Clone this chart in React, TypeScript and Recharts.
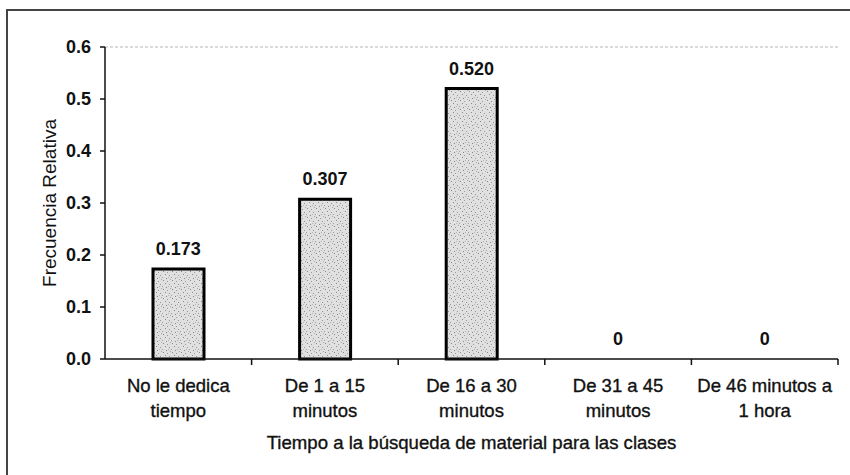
import React from "react";
import {
  ComposedChart,
  Bar,
  Line,
  XAxis,
  YAxis,
  LabelList,
  ReferenceLine,
  Label,
} from "recharts";

const categoryLines: string[][] = [
  ["No le dedica", "tiempo"],
  ["De 1 a 15", "minutos"],
  ["De 16 a 30", "minutos"],
  ["De 31 a 45", "minutos"],
  ["De 46 minutos a", "1 hora"],
];
const categories: string[] = categoryLines.map((l) => l.join(" "));
const frequencies: number[] = [0.173, 0.307, 0.52, 0, 0];
const yTicks: number[] = [0, 0.1, 0.2, 0.3, 0.4, 0.5, 0.6];
const yTitle = "Frecuencia Relativa";
const xTitle = "Tiempo a la búsqueda de material para las clases";

const data = categories.map((c, i) => ({ cat: c, value: frequencies[i] }));

const FONT = "'Liberation Sans', Arial, sans-serif";

const CatTick = (props: any) => {
  const { x, y, index, width } = props;
  const lines = categoryLines[index] || [];
  const band = width / categories.length;
  const left = x - band / 2;
  const right = x + band / 2;
  return (
    <g>
      {index > 0 && (
        <line x1={left} x2={left} y1={y} y2={y + 6} stroke="#111" strokeWidth={1.5} />
      )}
      {index === categories.length - 1 && (
        <line x1={right} x2={right} y1={y} y2={y + 6} stroke="#111" strokeWidth={1.5} />
      )}
      {lines.map((ln, i) => (
        <text
          key={i}
          x={x}
          y={y + 33 + i * 25}
          textAnchor="middle"
          fontFamily={FONT}
          fontSize={18.5}
          fill="#111"
          stroke="#111"
          strokeWidth={0.35}
        >
          {ln}
        </text>
      ))}
    </g>
  );
};

export default function App() {
  return (
    <div
      style={{
        position: "absolute",
        left: 0,
        top: 0,
        width: 850,
        height: 475,
        overflow: "hidden",
        background: "#fff",
      }}
    >
      <div
        style={{
          position: "absolute",
          left: 6,
          top: 9,
          width: 900,
          height: 600,
          borderTop: "2px solid #444",
          borderLeft: "2px solid #444",
        }}
      />
      <div style={{ position: "absolute", left: 0, top: 0 }}>
        <ComposedChart
          width={850}
          height={475}
          data={data}
          margin={{ top: 47, right: 12, bottom: 26, left: 45 }}
          barSize={51}
        >
          <defs>
            <pattern
              id="stipple"
              width="9"
              height="9"
              patternUnits="userSpaceOnUse"
            >
              <rect width="9" height="9" fill="#e0e0e0" />
              <rect x="1" y="1" width="1" height="1" fill="#888" />
              <rect x="5" y="2" width="1" height="1" fill="#9a9a9a" />
              <rect x="3" y="4" width="1" height="1" fill="#8c8c8c" />
              <rect x="7" y="5" width="1" height="1" fill="#969696" />
              <rect x="0" y="7" width="1" height="1" fill="#a0a0a0" />
              <rect x="4" y="8" width="1" height="1" fill="#888" />
              <rect x="8" y="0" width="1" height="1" fill="#aaa" />
              <rect x="6" y="7" width="1" height="1" fill="#b5b5b5" />
            </pattern>
          </defs>
          <XAxis
            xAxisId="num"
            type="number"
            domain={[0, 5]}
            allowDataOverflow
            hide
          />
          <XAxis
            xAxisId="cat"
            dataKey="cat"
            type="category"
            tickLine={false}
            tickSize={0}
            tickMargin={0}
            axisLine={{ stroke: "#111", strokeWidth: 1.5 }}
            tick={<CatTick />}
            interval={0}
            height={90}
          >
            <Label
              value={xTitle}
              content={(p: any) => {
                const vb = p.viewBox;
                return (
                  <text
                    x={vb.x + vb.width / 2}
                    y={vb.y + 90}
                    textAnchor="middle"
                    fontFamily={FONT}
                    fontSize={18.6}
                    fill="#111"
                    stroke="#111"
                    strokeWidth={0.35}
                  >
                    {xTitle}
                  </text>
                );
              }}
            />
          </XAxis>
          <YAxis
            domain={[0, 0.6]}
            ticks={yTicks}
            width={60}
            tickSize={5}
            tickMargin={9}
            tickFormatter={(v: number) => v.toFixed(1)}
            tick={{
              fontFamily: FONT,
              fontSize: 18,
              fontWeight: "bold",
              fill: "#111",
            }}
            tickLine={{ stroke: "#111", strokeWidth: 1.5 }}
            axisLine={{ stroke: "#111", strokeWidth: 1.5 }}
          >
            <Label
              value={yTitle}
              content={(p: any) => {
                const vb = p.viewBox;
                const cx = vb.x + 4;
                const cy = vb.y + vb.height / 2;
                return (
                  <text
                    x={cx}
                    y={cy}
                    transform={`rotate(-90, ${cx}, ${cy})`}
                    textAnchor="middle"
                    dominantBaseline="central"
                    fontFamily={FONT}
                    fontSize={19}
                    fill="#111"
                  >
                    {yTitle}
                  </text>
                );
              }}
            />
          </YAxis>
          <ReferenceLine
            y={0.6}
            xAxisId="cat"
            stroke="#b5b5b5"
            strokeDasharray="3 2"
          />
          <ReferenceLine
            x={5}
            xAxisId="num"
            stroke="#b5b5b5"
            strokeDasharray="3 2"
          />
          <Bar
            xAxisId="cat"
            dataKey="value"
            fill="url(#stipple)"
            stroke="#000"
            strokeWidth={3}
            isAnimationActive={false}
          />
          <Line
            xAxisId="cat"
            dataKey="value"
            stroke="none"
            dot={false}
            activeDot={false}
            legendType="none"
            isAnimationActive={false}
          >
            <LabelList
              dataKey="value"
              position="top"
              offset={14}
              formatter={(v: any) =>
                Number(v) === 0 ? "0" : Number(v).toFixed(3)
              }
              style={{
                fontFamily: FONT,
                fontSize: 18,
                fontWeight: "bold",
                fill: "#111",
              }}
            />
          </Line>
        </ComposedChart>
      </div>
    </div>
  );
}
